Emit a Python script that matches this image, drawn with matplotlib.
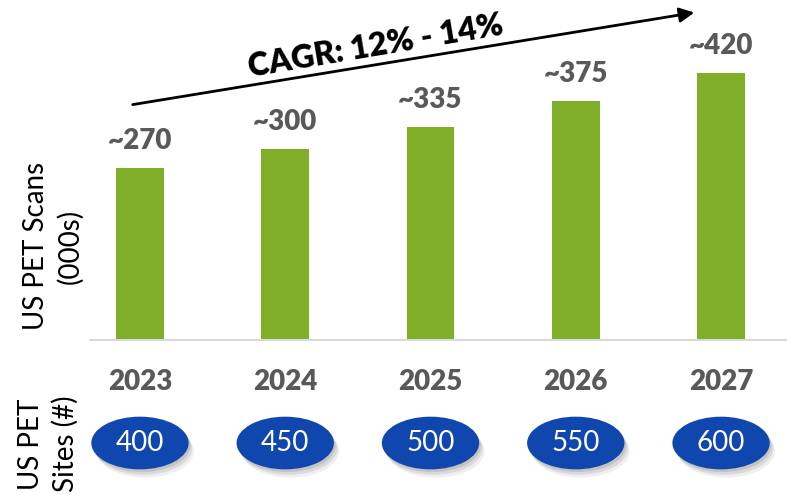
import numpy as np
import matplotlib.pyplot as plt
from matplotlib.patches import Ellipse
from matplotlib.transforms import blended_transform_factory

years = ['2023', '2024', '2025', '2026', '2027']
scans = [270, 300, 335, 375, 420]   # US PET scans (000s)
sites = [400, 450, 500, 550, 600]   # US PET sites (#)

GREEN = '#7FAE29'
BLUE = '#0F47AF'
GREY = '#595959'

plt.rcParams['font.family'] = ['Lato', 'DejaVu Sans']

fig = plt.figure(figsize=(7.87, 4.95), dpi=100)
ax = fig.add_axes([90 / 787, 155 / 495, 697 / 787, 340 / 495])

x = np.arange(len(years))
ax.bar(x, scans, width=0.33, color=GREEN, zorder=2)
ax.set_xlim(-0.344, 4.454)
ax.set_ylim(0, 534)

for s in ['top', 'right', 'left']:
    ax.spines[s].set_visible(False)
ax.spines['bottom'].set_color('#d9d9d9')
ax.spines['bottom'].set_linewidth(1.5)
ax.set_xticks([])
ax.set_yticks([])

# value labels
for xi, v in zip(x, scans):
    ax.annotate(f'~{v}', (xi, v), xytext=(0, 10), textcoords='offset points',
                ha='center', va='bottom', fontsize=20, fontweight='heavy', color=GREY)

# growth arrow + CAGR
ax.annotate('', xy=(3.835, 515), xytext=(-0.069, 369), annotation_clip=False,
            arrowprops=dict(arrowstyle='-|>', color='black', lw=2, mutation_scale=22))
ax.text(1.62, 462, 'CAGR: 12% - 14%', rotation=9.5, rotation_mode='anchor',
        ha='center', va='center', fontsize=23, fontweight='heavy', color='black')

# year labels and site ellipses below the axis
trans = blended_transform_factory(ax.transData, ax.transAxes)
for xi, yr, n in zip(x, years, sites):
    ax.text(xi, -0.1235, yr, transform=trans, ha='center', va='center',
            fontsize=20, fontweight='heavy', color=GREY, clip_on=False)
    for k, a in [(3, 0.12), (2, 0.18), (1, 0.25)]:
        sh = Ellipse((xi + 0.012 * k, -0.303 - 0.008 * k), 0.67, 0.155, transform=trans,
                     facecolor='#808080', edgecolor='none', alpha=a, clip_on=False)
        ax.add_patch(sh)
    e = Ellipse((xi, -0.303), 0.67, 0.155, transform=trans,
                facecolor=BLUE, edgecolor='none', clip_on=False)
    ax.add_patch(e)
    ax.text(xi, -0.303, str(n), transform=trans, ha='center', va='center',
            fontsize=20, color='white', clip_on=False)

# side labels
fig.text(53 / 787, 1 - 246 / 495, 'US PET Scans\n(000s)', rotation=90,
         ha='center', va='center', fontsize=20, linespacing=1.35, color='black')
fig.text(48 / 787, 1 - 444 / 495, 'US PET\nSites (#)', rotation=90,
         ha='center', va='center', fontsize=20, linespacing=1.35, color='black')

fig.savefig('out.png', dpi=100)
